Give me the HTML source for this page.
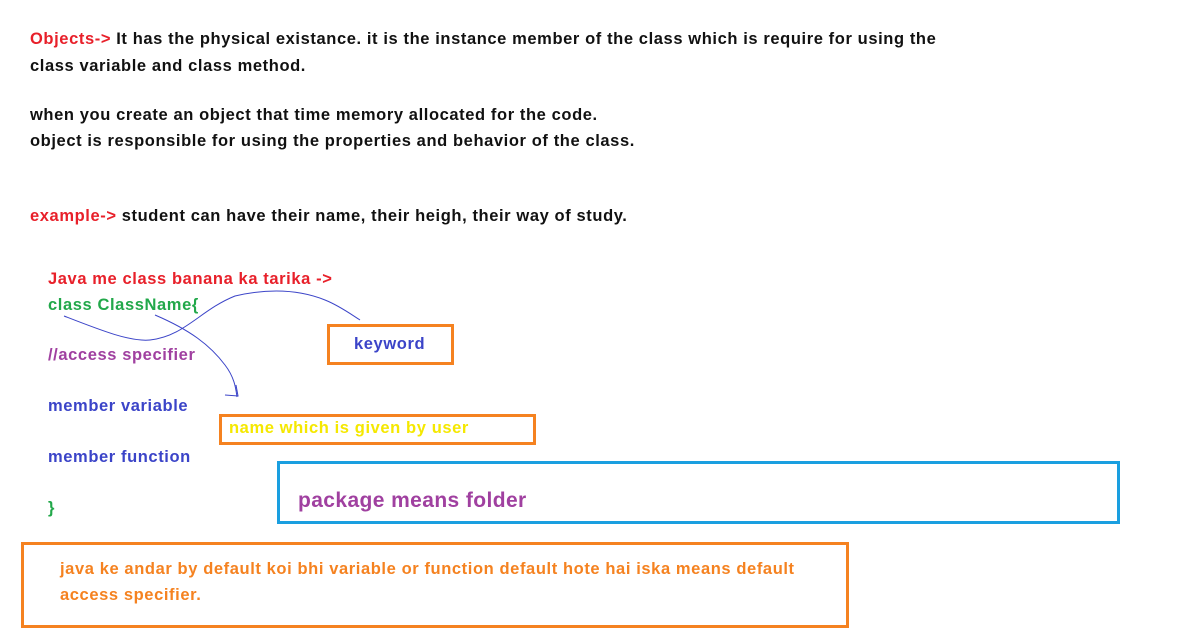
<!DOCTYPE html>
<html><head><meta charset="utf-8"><style>
body{margin:0;width:1182px;height:633px;background:#fff;position:relative;overflow:hidden;font-family:"Liberation Sans",sans-serif;font-weight:bold;font-size:16.5px;letter-spacing:0.6px;color:#111}
.t{position:absolute;white-space:nowrap;line-height:20px}
.r{color:#e8202a}.g{color:#22a84a}.p{color:#a040a0}.b{color:#3b44c8}.y{color:#f5e800}.o{color:#f58220}
.box{position:absolute;box-sizing:border-box;border:3px solid #f58220}
</style></head><body>
<div class="t" style="left:30px;top:29px"><span class="r">Objects-&gt;</span> It has the physical existance. it is the instance member of the class which is require for using the</div>
<div class="t" style="left:30px;top:56px">class variable and class method.</div>
<div class="t" style="left:30px;top:105px">when you create an object that time memory allocated for the code.</div>
<div class="t" style="left:30px;top:131px">object is responsible for using the properties and behavior of the class.</div>
<div class="t" style="left:30px;top:206px"><span class="r">example-&gt;</span> student can have their name, their heigh, their way of study.</div>
<div class="t r" style="left:48px;top:269px">Java me class banana ka tarika -&gt;</div>
<div class="t g" style="left:48px;top:295px">class ClassName{</div>
<div class="t p" style="left:48px;top:345px">//access specifier</div>
<div class="t b" style="left:48px;top:396px">member variable</div>
<div class="t b" style="left:48px;top:447px">member function</div>
<div class="t g" style="left:48px;top:498px">}</div>
<div class="box" style="left:327px;top:324px;width:127px;height:41px"></div>
<div class="t b" style="left:354px;top:334px">keyword</div>
<div class="box" style="left:219px;top:414px;width:317px;height:31px"></div>
<div class="t y" style="left:229px;top:418px">name which is given by user</div>
<div class="box" style="left:277px;top:461px;width:843px;height:63px;border-color:#1a9fe0"></div>
<div class="t p" style="left:298px;top:491px;font-size:21px;letter-spacing:0.4px">package means folder</div>
<div class="box" style="left:21px;top:542px;width:828px;height:86px"></div>
<div class="t o" style="left:60px;top:559px">java ke andar by default koi bhi variable or function default hote hai iska means default</div>
<div class="t o" style="left:60px;top:585px">access specifier.</div>
<svg style="position:absolute;left:0;top:0" width="1182" height="633">
<path d="M64 316 C100 330 130 342 150 340 C185 336 200 310 235 296 C270 288 300 290 325 300 C340 306 352 315 360 320" fill="none" stroke="#3b44c8" stroke-width="1"/>
<path d="M155 315 C190 330 210 345 225 365 C235 378 236 390 237 397" fill="none" stroke="#3b44c8" stroke-width="1"/>
<path d="M225 395 L238 396 L236 385" fill="none" stroke="#3b44c8" stroke-width="1"/>
</svg>
</body></html>
